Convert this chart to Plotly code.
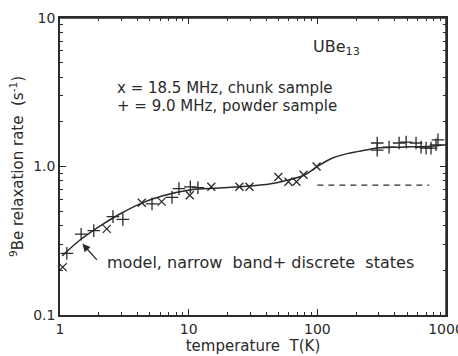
import math
import plotly.graph_objects as go

# 18.5 MHz, chunk sample (x markers)
chunk_T = [1.05, 2.31, 4.32, 6.17, 10.2, 15.0, 24.8, 29.7, 49.8, 59.6, 68.8, 78.0, 98.6]
chunk_R = [0.21, 0.38, 0.57, 0.58, 0.64, 0.73, 0.73, 0.73, 0.85, 0.79, 0.79, 0.88, 1.00]

# 9.0 MHz, powder sample (+ markers)
powder_T = [1.13, 1.46, 1.83, 2.58, 3.08, 5.19, 7.42, 8.41, 10.3, 11.8,
            292, 292, 361, 432, 490, 585, 640, 700, 765, 836, 866]
powder_R = [0.26, 0.35, 0.37, 0.46, 0.44, 0.56, 0.62, 0.71, 0.73, 0.72,
            1.44, 1.29, 1.35, 1.44, 1.46, 1.44, 1.35, 1.33, 1.33, 1.40, 1.51]

# model curve: narrow band + discrete states
model_T = [1.04, 1.43, 2.04, 2.92, 4.32, 6.21, 10.2, 17.4, 29.7, 42.4, 55.5,
           79.3, 98.6, 131, 177, 240, 292, 432, 779, 1000]
model_R = [0.25, 0.32, 0.397, 0.479, 0.567, 0.633, 0.695, 0.716, 0.739, 0.762, 0.799,
           0.877, 0.992, 1.14, 1.23, 1.29, 1.33, 1.35, 1.37, 1.40]

# dashed line (discrete states contribution level)
dash_T = [100, 740]
dash_R = [0.75, 0.75]

# axis extents and ticks
x_extent = [1, 1000]
y_extent = [0.1, 10]
x_tickvals = [1, 10, 100, 1000]
x_ticktext = ["1", "10", "100", "1000"]
y_tickvals = [0.1, 1, 10]
y_ticktext = ["0.1", "1.0", "10"]

INK = "#2a2a2a"
FONT = "DejaVu Sans"

fig = go.Figure()
fig.add_trace(go.Scatter(x=model_T, y=model_R, mode="lines",
                         line=dict(color=INK, width=1.5, shape="spline"), showlegend=False))
fig.add_trace(go.Scatter(x=dash_T, y=dash_R, mode="lines",
                         line=dict(color=INK, width=1.3, dash="6px,5px"), showlegend=False))
fig.add_trace(go.Scatter(x=chunk_T, y=chunk_R, mode="markers",
                         marker=dict(symbol="x-thin-open", size=8, color=INK,
                                     line=dict(color=INK, width=1.3)),
                         showlegend=False))
fig.add_trace(go.Scatter(x=powder_T, y=powder_R, mode="markers",
                         marker=dict(symbol="cross-thin-open", size=9, color=INK,
                                     line=dict(color=INK, width=1.3)),
                         showlegend=False))
# top and right border of the frame, drawn along the axis extents
fig.add_trace(go.Scatter(x=[x_extent[0], x_extent[1], x_extent[1]],
                         y=[y_extent[1], y_extent[1], y_extent[0]],
                         mode="lines", line=dict(color=INK, width=1.5),
                         cliponaxis=False, hoverinfo="skip", showlegend=False))

axis_common = dict(
    showline=True, linecolor=INK, linewidth=1.5, mirror="ticks",
    ticks="inside", ticklen=6, tickwidth=1.2, tickcolor=INK,
    showgrid=False, zeroline=False,
    minor=dict(ticks="inside", ticklen=3, tickwidth=1, tickcolor=INK, dtick="D1", showgrid=False),
    tickfont=dict(family=FONT, size=14, color=INK),
    automargin=False, ticklabeloverflow="allow",
)

fig.update_xaxes(type="log", range=[math.log10(v) for v in x_extent],
                 tickvals=x_tickvals, ticktext=x_ticktext,
                 title=dict(text="temperature  T(K)", font=dict(family=FONT, size=15, color=INK), standoff=4),
                 **axis_common)
fig.update_yaxes(type="log", range=[math.log10(v) for v in y_extent],
                 tickvals=y_tickvals, ticktext=y_ticktext,
                 title=dict(text="<sup>9</sup>Be relaxation rate  (s<sup>-1</sup>)",
                            font=dict(family=FONT, size=15, color=INK), standoff=6),
                 **axis_common)

ann_font = dict(family=FONT, size=15, color=INK)
fig.add_annotation(text="UBe<sub>13</sub>", xref="paper", yref="paper", x=0.650, y=0.899,
                   xanchor="left", yanchor="middle", showarrow=False,
                   font=dict(family=FONT, size=16, color=INK))
fig.add_annotation(text="x = 18.5 MHz, chunk sample", xref="paper", yref="paper", x=0.142, y=0.764,
                   xanchor="left", yanchor="middle", showarrow=False, font=ann_font)
fig.add_annotation(text="+ = 9.0 MHz, powder sample", xref="paper", yref="paper", x=0.142, y=0.704,
                   xanchor="left", yanchor="middle", showarrow=False, font=ann_font)
fig.add_annotation(text="model, narrow  band+ discrete  states", xref="paper", yref="paper",
                   x=0.116, y=0.178, xanchor="left", yanchor="middle", showarrow=False,
                   font=dict(family=FONT, size=16, color=INK))
fig.add_annotation(text=" ", xref="paper", yref="paper", x=0.058, y=0.24,
                   ax=18, ay=20, axref="pixel", ayref="pixel",
                   showarrow=True, arrowhead=2, arrowsize=1.2, arrowwidth=1.3, arrowcolor=INK)

fig.update_layout(
    width=458, height=356,
    margin=dict(l=60, r=12, t=18, b=41),
    paper_bgcolor="white", plot_bgcolor="white",
    font=dict(family=FONT, color=INK),
)

fig.write_html("out.html", config={"displayModeBar": False, "responsive": False},
               post_script="document.body.style.margin='0';document.body.style.overflow='hidden';")
